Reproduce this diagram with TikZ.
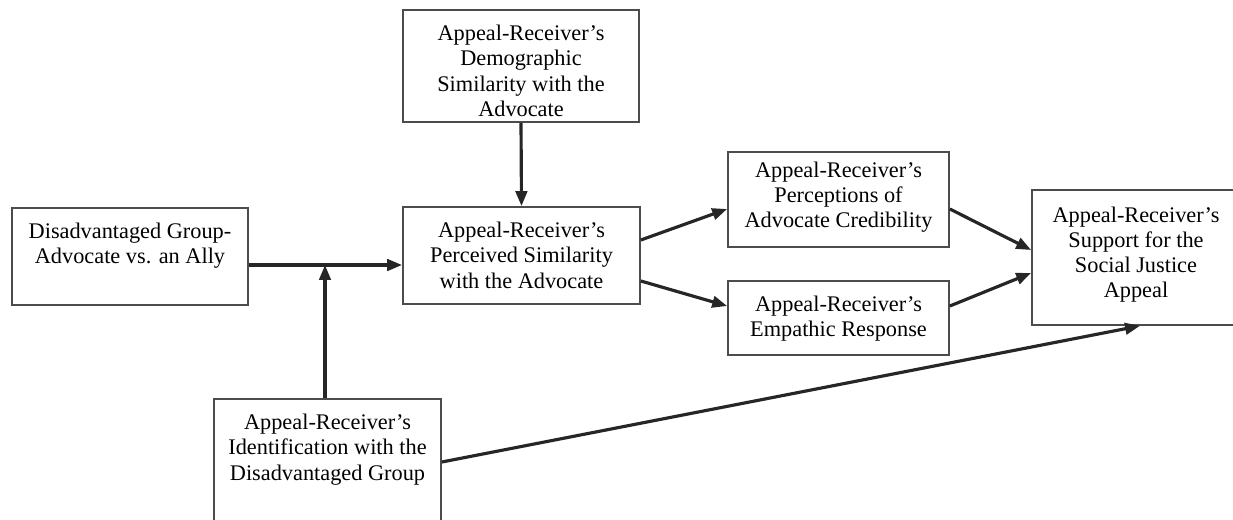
\documentclass[tikz,border=0pt]{standalone}
\usepackage{fontspec}
\setmainfont{Liberation Serif}
\usetikzlibrary{arrows.meta}
\tikzset{
  box/.style={draw=black!70, line width=1pt, inner sep=0pt},
  lbl/.style={anchor=north, align=center, inner sep=0pt, yshift=-9pt,
    font=\fontsize{12.7}{14.3}\selectfont},
  arr/.style={line width=1.8pt, black!85, -{Triangle[length=8.5pt,width=6.5pt]}}
}
\begin{document}
\begin{tikzpicture}[x=0.02cm, y=-0.02cm]
    \path[use as bounding box, clip] (0,0) rectangle (1233,520);
    % boxes
    \node[box, minimum width=4.72cm, minimum height=2.24cm] (demo) at (521,66)
      [label={[lbl]north:{Appeal-Receiver's\\Demographic\\Similarity with the\\Advocate}}] {};
    \node[box, minimum width=4.72cm, minimum height=1.94cm] (grp) at (130,256.5)
      [label={[lbl]north:{Disadvantaged Group-\\Advocate vs. an Ally}}] {};
    \node[box, minimum width=4.74cm, minimum height=1.94cm] (sim) at (521.5,255.5)
      [label={[lbl]north:{Appeal-Receiver's\\Perceived Similarity\\with the Advocate}}] {};
    \node[box, minimum width=4.42cm, minimum height=1.90cm] (cred) at (838.5,199.5)
      [label={[lbl, yshift=3pt]north:{Appeal-Receiver's\\Perceptions of\\Advocate Credibility}}] {};
    \node[box, minimum width=4.42cm, minimum height=1.48cm] (emp) at (838.5,318)
      [label={[lbl]north:{Appeal-Receiver's\\Empathic Response}}] {};
    \node[box, minimum width=4.16cm, minimum height=2.70cm] (supp) at (1136,257.5)
      [label={[lbl, yshift=-1pt]north:{Appeal-Receiver's\\Support for the\\Social Justice\\Appeal}}] {};
    \node[box, minimum width=4.54cm, minimum height=2.72cm] (ident) at (327.5,467)
      [label={[lbl]north:{Appeal-Receiver's\\Identification with the\\Disadvantaged Group}}] {};
    % paths
    \coordinate (join) at (325,265);
    \draw[arr] (demo.south) -- (sim.north);
    \draw[arr] ([yshift=-0.17cm]grp.east) -- ([yshift=-0.17cm]grp.east -| sim.west);
    \draw[arr] (ident.north -| join) -- (join);
    \draw[arr] ([yshift=0.31cm]sim.east) -- ([yshift=-0.19cm]cred.west);
    \draw[arr] ([yshift=-0.51cm]sim.east) -- ([yshift=0.24cm]emp.west);
    \draw[arr] ([yshift=-0.19cm]cred.east) -- ([yshift=0.15cm]supp.west);
    \draw[arr] ([yshift=0.24cm]emp.east) -- ([yshift=-0.31cm]supp.west);
    \draw[arr] ([yshift=0.1cm]ident.east) -- ([xshift=0.08cm]supp.south);
\end{tikzpicture}
\end{document}
